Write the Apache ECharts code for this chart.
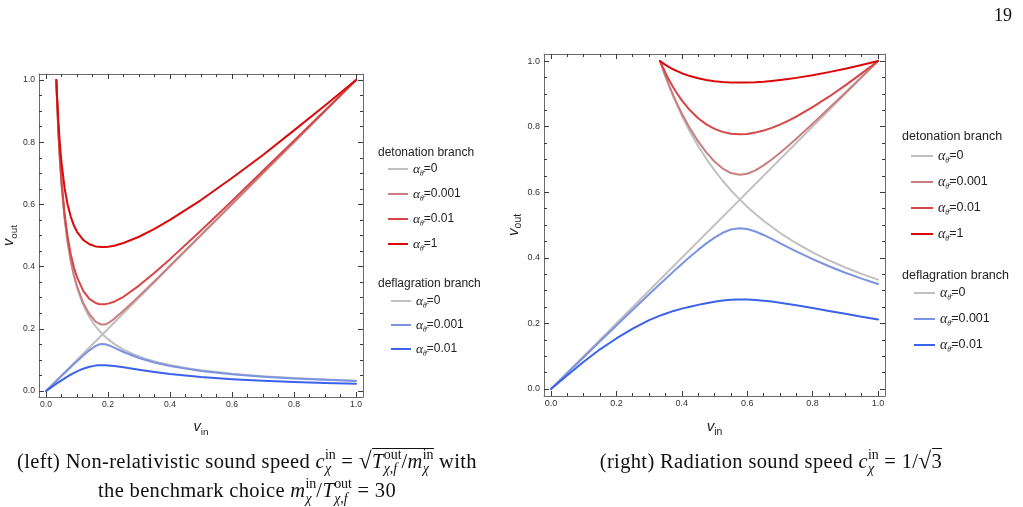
<!DOCTYPE html>
<html>
<head>
<meta charset="utf-8">
<script src="https://cdn.jsdelivr.net/npm/echarts@6/dist/echarts.min.js"></script>
<style>
  html, body { margin: 0; padding: 0; background: #fff; }
  #page { position: relative; width: 1023px; height: 507px; overflow: hidden; }
  #main { position: absolute; left: 0; top: 0; width: 1023px; height: 507px; }
  .cap { position: absolute; font-family: "Liberation Serif", serif; font-size: 20.5px; letter-spacing: 0.35px; line-height: 27px; color: #111; text-align: center; white-space: nowrap; }
  .ss { display: inline-block; font-size: 0.68em; line-height: 1.05; vertical-align: -0.38em; text-align: left; letter-spacing: 0; }
  .ss > span { display: block; }
  .ov { border-top: 1px solid #111; padding-top: 1px; }
  .rad { font-size: 1.15em; }
  #pnum { position: absolute; right: 11px; top: 5px; font-family: "Liberation Serif", serif; font-size: 18px; color: #111; }
</style>
</head>
<body>
<div id="page">
  <div id="main"></div>
  <div id="pnum">19</div>
  <div class="cap" style="left:0; width:494px; top:447px;">(left) Non-relativistic sound speed <i>c</i><span class="ss"><span>in</span><span><i>χ</i></span></span> = <span class="rad">√</span><span class="ov"><i>T</i><span class="ss"><span>out</span><span><i>χ</i>,<i>f</i></span></span>/<i>m</i><span class="ss"><span>in</span><span><i>χ</i></span></span></span> with<br>the benchmark choice <i>m</i><span class="ss"><span>in</span><span><i>χ</i></span></span>/<i>T</i><span class="ss"><span>out</span><span><i>χ</i>,<i>f</i></span></span> = 30</div>
  <div class="cap" style="left:521px; width:500px; top:447px;">(right) Radiation sound speed <i>c</i><span class="ss"><span>in</span><span><i>χ</i></span></span> = 1/<span class="rad">√</span><span class="ov">3</span></div>
</div>
<script>
// ---- left panel: non-relativistic ----
var leftDetX = [0.0333,0.035,0.04,0.045,0.05,0.06,0.07,0.08,0.09,0.10,0.12,0.14,0.16,0.17,0.18,0.19,0.20,0.22,0.25,0.30,0.35,0.40,0.50,0.60,0.70,0.80,0.90,1.00];
var leftDet1 = [1.000,0.961,0.864,0.791,0.734,0.652,0.598,0.560,0.532,0.512,0.486,0.472,0.465,0.464,0.463,0.463,0.464,0.467,0.476,0.496,0.521,0.550,0.614,0.685,0.759,0.838,0.918,1.000];
var leftDet01 = [1.000,0.953,0.837,0.747,0.675,0.569,0.494,0.439,0.398,0.366,0.322,0.296,0.283,0.280,0.279,0.279,0.281,0.287,0.303,0.339,0.380,0.424,0.516,0.611,0.708,0.805,0.902,1.000];
var leftDet001 = [1.000,0.952,0.834,0.741,0.668,0.557,0.478,0.419,0.373,0.337,0.283,0.247,0.223,0.217,0.214,0.214,0.218,0.232,0.258,0.305,0.353,0.403,0.502,0.601,0.701,0.800,0.900,1.000];
var leftDefX = [0,0.01,0.02,0.03,0.04,0.05,0.06,0.07,0.08,0.09,0.10,0.12,0.14,0.16,0.17,0.18,0.19,0.20,0.22,0.25,0.30,0.35,0.40,0.50,0.60,0.70,0.80,0.90,1.00];
var leftDef001 = [0,0.0097,0.0194,0.0291,0.0387,0.0484,0.0580,0.0676,0.0771,0.0865,0.0958,0.1140,0.1308,0.1446,0.1492,0.1512,0.1506,0.1479,0.1394,0.1254,0.1060,0.0914,0.0802,0.0644,0.0537,0.0461,0.0404,0.0359,0.0323];
var leftDef01 = [0,0.0070,0.0140,0.0208,0.0276,0.0342,0.0406,0.0468,0.0526,0.0581,0.0631,0.0717,0.0779,0.0816,0.0825,0.0829,0.0828,0.0823,0.0804,0.0762,0.0682,0.0608,0.0545,0.0447,0.0378,0.0327,0.0287,0.0256,0.0231];
var leftDet0X = [0.0333,0.035,0.0375,0.04,0.045,0.05,0.055,0.06,0.07,0.08,0.09,0.10,0.11,0.12,0.13,0.14,0.15,0.16,0.17,0.1826,1.0];
var leftDet0 = [1.000,0.952,0.889,0.833,0.741,0.667,0.606,0.556,0.476,0.417,0.370,0.333,0.303,0.278,0.256,0.238,0.222,0.208,0.196,0.1826,1.0];
var leftDef0X = [0,0.1826,0.19,0.20,0.22,0.25,0.28,0.32,0.36,0.40,0.45,0.50,0.60,0.70,0.80,0.90,1.0];
var leftDef0 = [0,0.1826,0.1754,0.1667,0.1515,0.1333,0.1190,0.1042,0.0926,0.0833,0.0741,0.0667,0.0556,0.0476,0.0417,0.0370,0.0333];

// ---- right panel: radiation sound speed ----
var rightDetX = [0.3333,0.35,0.3625,0.375,0.3875,0.40,0.425,0.45,0.475,0.50,0.525,0.55,0.5774,0.60,0.625,0.65,0.675,0.70,0.725,0.75,0.80,0.85,0.90,0.95,1.00];
var rightDet1 = [1.0000,0.9884,0.9809,0.9741,0.9682,0.9629,0.9541,0.9473,0.9422,0.9385,0.9361,0.9347,0.9342,0.9345,0.9355,0.9371,0.9393,0.9420,0.9451,0.9486,0.9567,0.9661,0.9765,0.9879,1.0000];
var rightDet01 = [1.0000,0.9639,0.9398,0.9179,0.8981,0.8802,0.8498,0.8256,0.8069,0.7932,0.7839,0.7785,0.7766,0.7778,0.7817,0.7879,0.7961,0.8061,0.8176,0.8304,0.8592,0.8912,0.9258,0.9622,1.0000];
var rightDet001 = [1.0000,0.9539,0.9222,0.8928,0.8655,0.8400,0.7943,0.7549,0.7212,0.6935,0.6722,0.6584,0.6531,0.6564,0.6667,0.6817,0.6998,0.7198,0.7410,0.7631,0.8088,0.8558,0.9035,0.9516,1.0000];
var rightDefX = [0,0.05,0.10,0.15,0.20,0.25,0.30,0.3333,0.35,0.375,0.40,0.425,0.45,0.475,0.50,0.525,0.55,0.5774,0.60,0.625,0.65,0.675,0.70,0.725,0.75,0.80,0.85,0.90,0.95,1.00];
var rightDef001 = [0,0.0485,0.0969,0.1453,0.1935,0.2414,0.2889,0.3201,0.3356,0.3586,0.3811,0.4030,0.4241,0.4439,0.4616,0.4763,0.4863,0.4902,0.4877,0.4802,0.4696,0.4575,0.4448,0.4320,0.4195,0.3958,0.3741,0.3543,0.3364,0.3201];
var rightDef01 = [0,0.0420,0.0830,0.1210,0.1540,0.1840,0.2100,0.2235,0.2295,0.2380,0.2450,0.2510,0.2565,0.2615,0.2660,0.2695,0.2720,0.2732,0.2727,0.2714,0.2692,0.2664,0.2631,0.2594,0.2554,0.2469,0.2380,0.2291,0.2205,0.2121];
var rightDet0X = [0.3333,0.35,0.375,0.40,0.425,0.45,0.475,0.50,0.525,0.55,0.5774,1.0];
var rightDet0 = [1.000,0.9524,0.8889,0.8333,0.7843,0.7407,0.7018,0.6667,0.6349,0.6061,0.5774,1.0];
var rightDef0X = [0,0.5774,0.60,0.625,0.65,0.70,0.75,0.80,0.85,0.90,0.95,1.0];
var rightDef0 = [0,0.5774,0.5556,0.5333,0.5128,0.4762,0.4444,0.4167,0.3922,0.3704,0.3509,0.3333];

var majorTicks = [0, 0.2, 0.4, 0.6, 0.8, 1.0];
var minorTicks = [0.05,0.1,0.15,0.25,0.3,0.35,0.45,0.5,0.55,0.65,0.7,0.75,0.85,0.9,0.95];

var legendLabels = {
  Ld0: '0', Ld1: '0.001', Ld2: '0.01', Ld3: '1',
  Lf0: '0', Lf1: '0.001', Lf2: '0.01',
  Rd0: '0', Rd1: '0.001', Rd2: '0.01', Rd3: '1',
  Rf0: '0', Rf1: '0.001', Rf2: '0.01'
};

var GRAY = '#c0c0c0', DET001 = '#c97f7f', DET01 = '#d64646', DET1 = '#da0a0a', DEF001 = '#7b93e0', DEF01 = '#3b62ea';
var sans = 'Liberation Sans';

function nameRich(fs) {
  return {
    v: { fontSize: fs, fontStyle: 'italic', fontFamily: sans, color: '#222', lineHeight: 20 },
    s: { fontSize: fs * 0.68, fontFamily: sans, color: '#222', lineHeight: 12, verticalAlign: 'bottom' }
  };
}

function buildAxes(dim, grid, min, max, fs, name, nameGap) {
  var sides = dim === 'x' ? ['bottom', 'top'] : ['left', 'right'];
  var axes = [];
  sides.forEach(function (side, s) {
    [majorTicks, minorTicks].forEach(function (vals, m) {
      var main = s === 0 && m === 0;
      axes.push({
        type: 'value', gridIndex: grid, position: side, min: min, max: max,
        axisLine: { show: m === 0, onZero: false, lineStyle: { color: '#6b6b6b', width: 1 } },
        axisTick: { show: true, inside: true, length: m === 0 ? 5 : 3, customValues: vals, lineStyle: { color: '#3a3a3a', width: 1 } },
        axisLabel: { show: main, customValues: majorTicks, formatter: function (v) { return v.toFixed(1); },
          fontSize: fs, color: '#333', fontFamily: sans, margin: dim === 'x' ? 3 : 4 },
        splitLine: { show: false },
        name: main ? name : '',
        nameLocation: 'middle', nameGap: nameGap,
        nameRotate: dim === 'y' ? 90 : 0,
        nameTextStyle: { rich: nameRich(fs * 1.7) }
      });
    });
  });
  return axes;
}

function curve(name, axis, xs, ys, color) {
  return {
    name: name, type: 'line', xAxisIndex: axis, yAxisIndex: axis,
    data: xs.map(function (x, i) { return [x, ys[i]]; }),
    showSymbol: false, symbol: 'none', smooth: false,
    lineStyle: { color: color, width: 2, join: 'round', cap: 'round' }, itemStyle: { color: color },
    emphasis: { disabled: true }, silent: true
  };
}

function legendRich(fs) {
  return {
    a: { fontSize: fs + 1.5, fontStyle: 'italic', fontFamily: 'Liberation Serif', color: '#222', lineHeight: 18 },
    s: { fontSize: fs * 0.62, fontStyle: 'italic', fontFamily: 'Liberation Serif', color: '#222', lineHeight: 10, verticalAlign: 'bottom' },
    t: { fontSize: fs, fontFamily: sans, color: '#222', lineHeight: 18 }
  };
}

function makeLegend(names, left, top, w, gap, fs) {
  return {
    data: names, orient: 'vertical', left: left, top: top, padding: 0,
    itemWidth: w, itemHeight: 2, itemGap: gap, icon: 'rect', selectedMode: false,
    formatter: function (n) { return '{a|α}{s|θ\u0304}{t|=' + legendLabels[n] + '}'; },
    textStyle: { rich: legendRich(fs) }
  };
}

var chart = echarts.init(document.getElementById('main'));

var xAxes = buildAxes('x', 0, -0.0226, 1.0226, 8.6, '{v|v}{s|in}', 20)
  .concat(buildAxes('x', 1, -0.0214, 1.0214, 9, '{v|v}{s|in}', 21));
var yAxes = buildAxes('y', 0, -0.0193, 1.0193, 8.6, '{v|v}{s|out}', 15)
  .concat(buildAxes('y', 1, -0.0214, 1.0214, 9, '{v|v}{s|out}', 19));

var option = {
  animation: false,
  backgroundColor: '#fff',
  grid: [
    { left: 39, top: 74, width: 324, height: 323 },
    { left: 544, top: 54, width: 341, height: 342 }
  ],
  xAxis: xAxes,
  yAxis: yAxes,
  legend: [
    makeLegend(['Ld0', 'Ld1', 'Ld2', 'Ld3'], 388, 162, 20, 9, 12),
    makeLegend(['Lf0', 'Lf1', 'Lf2'], 391, 294, 20, 8, 12),
    makeLegend(['Rd0', 'Rd1', 'Rd2', 'Rd3'], 911, 149, 22, 10, 12.5),
    makeLegend(['Rf0', 'Rf1', 'Rf2'], 914, 286, 21, 10, 12.5)
  ],
  graphic: [
    { type: 'text', left: 378, top: 147, style: { text: 'detonation branch', font: '12px "Liberation Sans"', fill: '#222' } },
    { type: 'text', left: 378, top: 278, style: { text: 'deflagration branch', font: '12px "Liberation Sans"', fill: '#222' } },
    { type: 'text', left: 902, top: 130, style: { text: 'detonation branch', font: '12.5px "Liberation Sans"', fill: '#222' } },
    { type: 'text', left: 902, top: 269, style: { text: 'deflagration branch', font: '12.5px "Liberation Sans"', fill: '#222' } }
  ],
  series: [
    curve('Ld0', 0, leftDet0X, leftDet0, GRAY),
    curve('Lf0', 0, leftDef0X, leftDef0, GRAY),
    curve('Ld1', 0, leftDetX, leftDet001, DET001),
    curve('Ld2', 0, leftDetX, leftDet01, DET01),
    curve('Ld3', 0, leftDetX, leftDet1, DET1),
    curve('Lf1', 0, leftDefX, leftDef001, DEF001),
    curve('Lf2', 0, leftDefX, leftDef01, DEF01),

    curve('Rd0', 4, rightDet0X, rightDet0, GRAY),
    curve('Rf0', 4, rightDef0X, rightDef0, GRAY),
    curve('Rd1', 4, rightDetX, rightDet001, DET001),
    curve('Rd2', 4, rightDetX, rightDet01, DET01),
    curve('Rd3', 4, rightDetX, rightDet1, DET1),
    curve('Rf1', 4, rightDefX, rightDef001, DEF001),
    curve('Rf2', 4, rightDefX, rightDef01, DEF01)
  ]
};

chart.setOption(option);
</script>
</body>
</html>
